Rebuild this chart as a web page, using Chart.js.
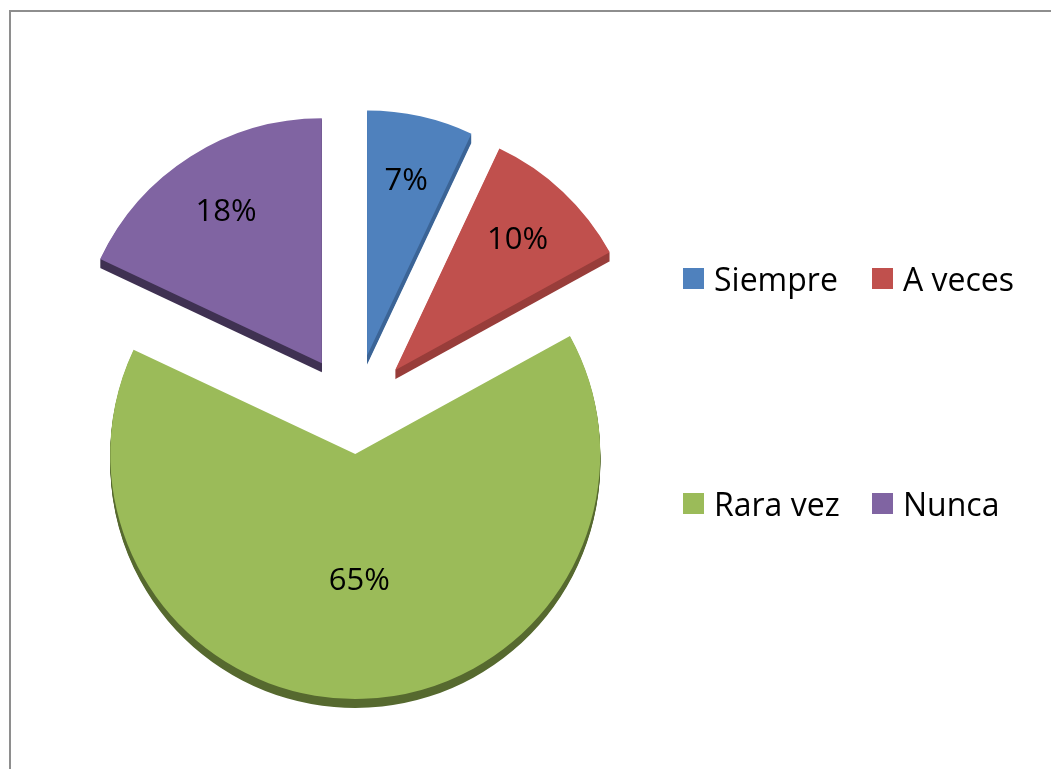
<!DOCTYPE html>
<html>
<head>
<meta charset="utf-8">
<script src="https://cdn.jsdelivr.net/npm/chart.js@4/dist/chart.umd.min.js"></script>
<style>
  body { margin: 0; background: #fff; overflow: hidden; font-family: "Open Sans", sans-serif; }
  #frame { position: absolute; left: 9px; top: 10px; width: 1200px; height: 900px; border: 2px solid #8e8e8e; }
  #wrap { position: absolute; left: 0; top: 0; width: 1051px; height: 769px; }
  #legend { position: absolute; left: 0; top: 0; }
  .item { position: absolute; display: flex; align-items: center; font-size: 32px; color: #000; white-space: nowrap; }
  .box { width: 21px; height: 21px; margin-right: 10px; }
</style>
</head>
<body>
<div id="frame"></div>
<div id="wrap"><canvas id="chartCanvas"></canvas></div>
<div id="legend"></div>
<script>
const labels = ['Siempre', 'A veces', 'Rara vez', 'Nunca'];
const percents = [7, 10, 65, 18];
const colors = ['#4F81BD', '#C0504D', '#9BBB59', '#8064A2'];
const sideColors = ['#3B6496', '#983D3A', '#56692F', '#3F3152'];
const explode = [60, 60, 40, 60];
const labelPos = [0.73, 0.73, 0.52, 0.73];
const depth = 9;

// legend layout (2 x 2 grid on the right)
const legendSpots = [[683, 280], [872, 280], [683, 505], [872, 505]];

// push each slice out from the centre along its middle angle
const explodePlugin = {
  id: 'explode',
  afterUpdate(chart) {
    const meta = chart.getDatasetMeta(0);
    meta.data.forEach((arc, i) => {
      const mid = (arc.startAngle + arc.endAngle) / 2;
      arc.x += Math.cos(mid) * explode[i];
      arc.y += Math.sin(mid) * explode[i];
    });
  }
};

// fake 3d side: darker copies of each slice underneath
const depthPlugin = {
  id: 'depth',
  beforeDatasetsDraw(chart) {
    const ctx = chart.ctx;
    const meta = chart.getDatasetMeta(0);
    meta.data.forEach((arc, i) => {
      ctx.save();
      ctx.fillStyle = sideColors[i];
      for (let d = 1; d <= depth; d++) {
        ctx.beginPath();
        ctx.moveTo(arc.x, arc.y + d);
        ctx.arc(arc.x, arc.y + d, arc.outerRadius, arc.startAngle, arc.endAngle);
        ctx.closePath();
        ctx.fill();
      }
      ctx.restore();
    });
  }
};

const labelPlugin = {
  id: 'sliceLabels',
  afterDatasetsDraw(chart) {
    const ctx = chart.ctx;
    const meta = chart.getDatasetMeta(0);
    ctx.save();
    ctx.font = '31px "Open Sans"';
    ctx.fillStyle = '#000';
    ctx.textAlign = 'center';
    ctx.textBaseline = 'middle';
    meta.data.forEach((arc, i) => {
      const mid = (arc.startAngle + arc.endAngle) / 2;
      const rr = arc.outerRadius * labelPos[i];
      ctx.fillText(percents[i] + '%', arc.x + Math.cos(mid) * rr, arc.y + Math.sin(mid) * rr);
    });
    ctx.restore();
  }
};

const chartCanvas = document.getElementById('chartCanvas');
new Chart(chartCanvas, {
  type: 'pie',
  data: {
    labels: labels,
    datasets: [{
      data: percents,
      backgroundColor: colors,
      borderWidth: 0
    }]
  },
  options: {
    responsive: true,
    maintainAspectRatio: false,
    animation: false,
    radius: 245,
    layout: { padding: { left: 0, right: 343, top: 59, bottom: 0 } },
    plugins: { legend: { display: false }, tooltip: { enabled: false } }
  },
  plugins: [explodePlugin, depthPlugin, labelPlugin]
});

// html legend
const legendEl = document.getElementById('legend');
labels.forEach((lab, i) => {
  const item = document.createElement('div');
  item.className = 'item';
  item.style.left = legendSpots[i][0] + 'px';
  item.style.top = (legendSpots[i][1] - 23) + 'px';
  const box = document.createElement('span');
  box.className = 'box';
  box.style.background = colors[i];
  const txt = document.createElement('span');
  txt.textContent = lab;
  item.appendChild(box);
  item.appendChild(txt);
  legendEl.appendChild(item);
});
</script>
</body>
</html>
